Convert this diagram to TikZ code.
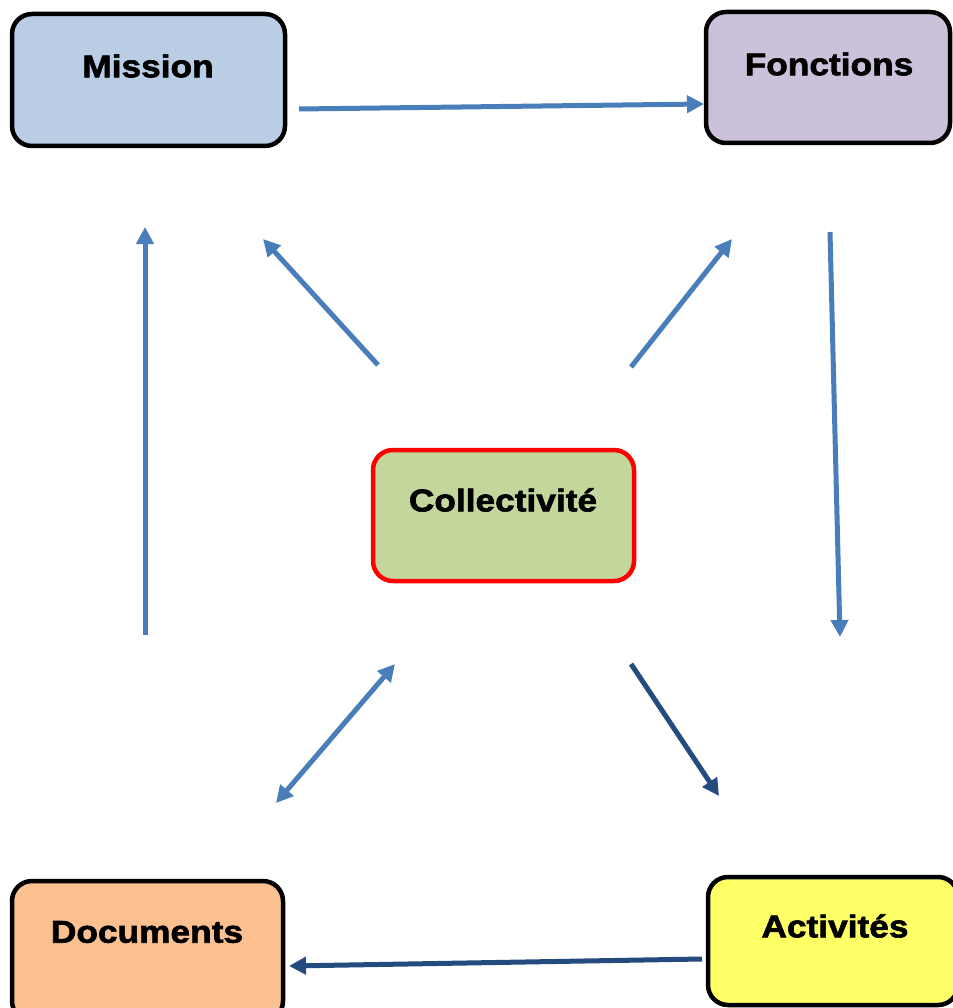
\documentclass[tikz,border=0pt]{standalone}
\usepackage{fontspec}
\setmainfont{Liberation Sans}[BoldFeatures={FakeStretch=1.12,FakeBold=2}]
\usetikzlibrary{arrows.meta}
\definecolor{missionfill}{HTML}{B9CDE5}
\definecolor{fonctfill}{HTML}{CCC1DA}
\definecolor{collfill}{HTML}{C3D69B}
\definecolor{docfill}{HTML}{FAC090}
\definecolor{actfill}{HTML}{FFFF66}
\definecolor{lightarrow}{HTML}{4A7EBB}
\definecolor{darkarrow}{HTML}{234B7E}
\tikzset{
  box/.style={draw=black, line width=4.5pt, rounded corners=20pt, inner sep=0pt},
  boxlabel/.style={font=\fontsize{31.5}{34}\selectfont\bfseries, inner sep=0pt},
  tip/.tip={Triangle[length=17pt,width=17pt]},
  link/.style={line width=5pt, draw=lightarrow, -tip},
  twolink/.style={line width=5pt, draw=lightarrow, tip-tip},
  darklink/.style={line width=5pt, draw=darkarrow, -tip},
}
\begin{document}
\begin{tikzpicture}[x=1pt,y=-1pt]
\useasboundingbox (0,0) rectangle (952,1008);

% the five boxes
\node[box, fill=missionfill, minimum width=273pt, minimum height=132pt] (mission) at (148.5,80) {};
\node[box, fill=fonctfill, minimum width=244pt, minimum height=131pt] (fonctions) at (828,77.5) {};
\node[box, draw=red, fill=collfill, minimum width=261pt, minimum height=131pt] (coll) at (503.5,515.5) {};
\node[box, fill=docfill, minimum width=271pt, minimum height=140pt] (documents) at (147.5,951) {};
\node[box, fill=actfill, minimum width=250pt, minimum height=128pt] (activites) at (833,941) {};

% box titles
\node[boxlabel] (tmission) at (148,66) {Mission};
\node[boxlabel] (tfonctions) at (829,64) {Fonctions};
\node[boxlabel] (tcoll) at (503,500) {Collectivité};
\node[boxlabel] (tdocuments) at (147,932) {Documents};
\node[boxlabel] (tactivites) at (835,926) {Activités};

% free ends of the connectors
\coordinate (m1) at (299,109);
\coordinate (f1) at (704,104);
\coordinate (f2) at (830,232);
\coordinate (a1) at (840,637);
\coordinate (a2) at (702,959);
\coordinate (d1) at (289,966);
\coordinate (d2) at (145,635);
\coordinate (m2) at (145,227);
\coordinate (c1) at (378,365);
\coordinate (m3) at (263,239);
\coordinate (c2) at (631,367);
\coordinate (f3) at (732,239);
\coordinate (d3) at (276,803);
\coordinate (c3) at (395,664);
\coordinate (c4) at (631,664);
\coordinate (a3) at (719,796);

% connectors
\draw[link] (m1) -- (f1);
\draw[link] (f2) -- (a1);
\draw[darklink] (a2) -- (d1);
\draw[link] (d2) -- (m2);
\draw[link] (c1) -- (m3);
\draw[link] (c2) -- (f3);
\draw[twolink] (d3) -- (c3);
\draw[darklink] (c4) -- (a3);
\end{tikzpicture}
\end{document}
